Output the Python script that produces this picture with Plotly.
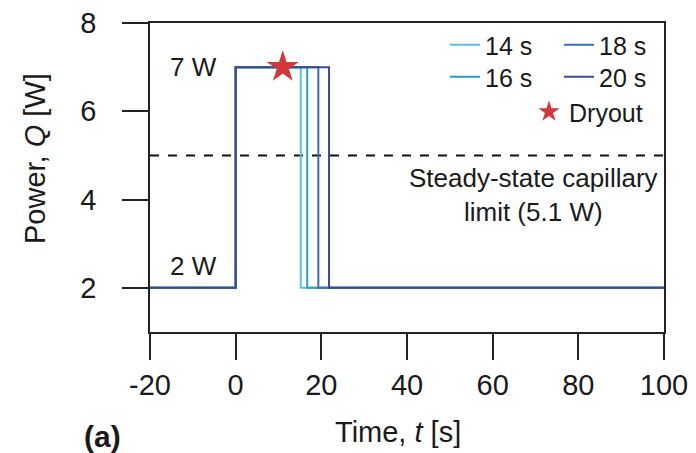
import plotly.graph_objects as go

# ---- data ----
durations = ["14 s", "16 s", "18 s", "20 s"]
pulse_end = [15.2, 16.7, 19.3, 21.8]
t_start, t_on, t_stop = -20, 0, 100
q_low, q_high = 2, 7
capillary_limit = 5
dryout_t, dryout_q = [11], [7]
colors = ["#5BC3DA", "#2A9FBE", "#3B6FAE", "#3A4B8C"]
legend_ids = ["legend", "legend2", "legend3", "legend4"]
x_ticks = [-20, 0, 20, 40, 60, 80, 100]
x_ticktext = ["-20", "0", "20", "40", "60", "80", "100"]
y_ticks = [2, 4, 6, 8]

FONT = "Liberation Sans, Arial, sans-serif"
fig = go.Figure()

fig.add_trace(go.Scatter(x=[t_start, t_stop], y=[capillary_limit, capillary_limit],
                         mode="lines", line=dict(color="#111111", width=2, dash="dash"),
                         showlegend=False, hoverinfo="skip"))

for name, end, col, lg in zip(durations, pulse_end, colors, legend_ids):
    fig.add_trace(go.Scatter(
        x=[t_start, t_on, t_on, end, end, t_stop],
        y=[q_low, q_low, q_high, q_high, q_low, q_low],
        mode="lines", line=dict(color=col, width=2), name=name, legend=lg))

fig.add_trace(go.Scatter(x=dryout_t, y=dryout_q, mode="markers", name="Dryout",
                         marker=dict(symbol="star", size=24, color="#D0393B",
                                     line=dict(width=0)),
                         legend="legend5"))

axis_common = dict(showline=True, linecolor="#222222", linewidth=1.8, mirror=True,
                   ticks="outside", ticklen=26, tickwidth=1.8, tickcolor="#222222",
                   showgrid=False, zeroline=False, automargin=False,
                   tickfont=dict(family=FONT, size=29, color="#1a1a1a"))

fig.update_xaxes(range=[-20, 100], tickvals=x_ticks, ticktext=x_ticktext, **axis_common)
fig.update_yaxes(range=[1, 8], tickvals=y_ticks, ticklabelstandoff=20, **axis_common)

leg_common = dict(bgcolor="rgba(0,0,0,0)", font=dict(family=FONT, size=25, color="#1a1a1a"),
                  itemwidth=30, tracegroupgap=0, xanchor="left", yanchor="middle",
                  borderwidth=0)


def px_x(p):
    return (p - 150) / 514


def px_y(p):
    return 1 - (p - 23) / 309


fig.update_layout(
    width=696, height=453,
    margin=dict(l=150, r=32, t=23, b=121, autoexpand=False),
    paper_bgcolor="white", plot_bgcolor="white",
    font=dict(family=FONT, color="#1a1a1a"),
    legend=dict(x=px_x(445), y=px_y(45), **leg_common),
    legend2=dict(x=px_x(445), y=px_y(77), **leg_common),
    legend3=dict(x=px_x(559), y=px_y(45), **leg_common),
    legend4=dict(x=px_x(559), y=px_y(77), **leg_common),
    legend5=dict(x=px_x(529), y=px_y(112), **leg_common),
)

ann = [
    dict(text="7 W", x=-4.0, y=7, xref="x", yref="y", xanchor="right", yanchor="middle",
         font=dict(size=26)),
    dict(text="2 W", x=-4.0, y=2.5, xref="x", yref="y", xanchor="right", yanchor="middle",
         font=dict(size=26)),
    dict(text="Steady-state capillary<br>limit (5.1 W)", x=69.5, y=4.1, xref="x", yref="y",
         xanchor="center", yanchor="middle", align="center", font=dict(size=26)),
    dict(text="Power, <i>Q</i> [W]", x=px_x(35), y=px_y(159), xref="paper", yref="paper",
         textangle=-90, xanchor="center", yanchor="middle", font=dict(size=29)),
    dict(text="Time, <i>t</i> [s]", x=px_x(398), y=px_y(432), xref="paper", yref="paper",
         xanchor="center", yanchor="middle", font=dict(size=29)),
    dict(text="<b>(a)</b>", x=px_x(102), y=px_y(436), xref="paper", yref="paper",
         xanchor="center", yanchor="middle", font=dict(size=30)),
]
for a in ann:
    a["showarrow"] = False
    a["font"]["family"] = FONT
    a["font"]["color"] = "#1a1a1a"
fig.update_layout(annotations=ann)

fig.write_html("out.html")
